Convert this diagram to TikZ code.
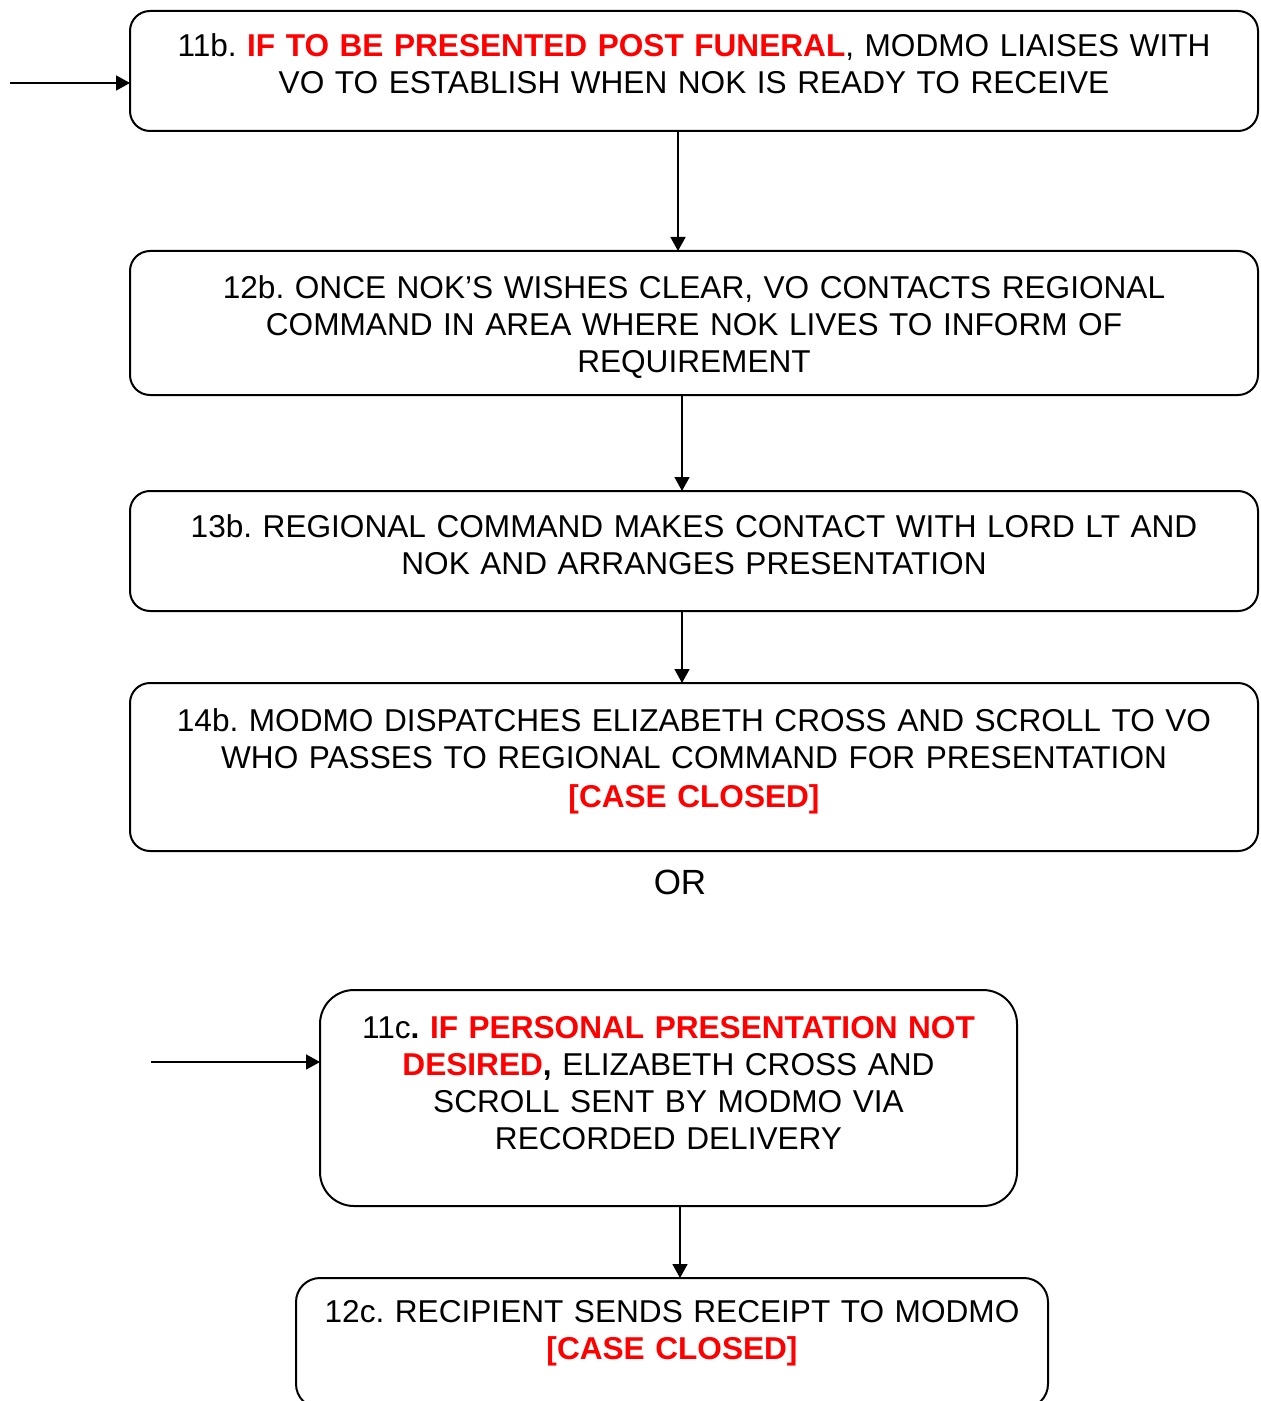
\documentclass[tikz,border=0pt]{standalone}
\usepackage{fontspec}
\setmainfont{Liberation Sans}
\usetikzlibrary{arrows.meta, positioning}

\frenchspacing
\newcommand{\urgent}[1]{\textcolor{red}{\textbf{#1}}}

\begin{document}
\begin{tikzpicture}[
  stepbox/.style={draw, line width=1pt, outer sep=0pt, rounded corners=10pt, text width=552pt, align=center, inner xsep=6pt, inner ysep=0pt, font=\fontsize{15.8pt}{18.5pt}\selectfont},
  roundbox/.style={stepbox, rounded corners=17pt, text width=336.5pt},
  lastbox/.style={stepbox, rounded corners=12pt, text width=364pt},
  orlabel/.style={inner sep=0pt, font=\fontsize{17.5pt}{20pt}\selectfont},
  flow/.style={-{Triangle[length=7pt, width=7.5pt]}, line width=0.8pt}
]
\useasboundingbox (0,0) rectangle (630pt,-700.5pt);

% Post funeral route
\node[stepbox, anchor=north west, text height=23pt, text depth=37pt] (b11) at (65pt,-5.5pt)
  {11b. \urgent{IF TO BE PRESENTED POST FUNERAL}, MODMO LIAISES WITH\\VO TO ESTABLISH WHEN NOK IS READY TO RECEIVE};
\node[stepbox, below=60pt of b11, text height=24pt, text depth=48pt] (b12)
  {12b. ONCE NOK’S WISHES CLEAR, VO CONTACTS REGIONAL\\COMMAND IN AREA WHERE NOK LIVES TO INFORM OF\\REQUIREMENT};
\node[stepbox, below=48pt of b12, text height=23pt, text depth=37pt] (b13)
  {13b. REGIONAL COMMAND MAKES CONTACT WITH LORD LT AND\\NOK AND ARRANGES PRESENTATION};
\node[stepbox, below=36pt of b13, text height=24pt, text depth=60pt] (b14)
  {14b. MODMO DISPATCHES ELIZABETH CROSS AND SCROLL TO VO\\WHO PASSES TO REGIONAL COMMAND FOR PRESENTATION\\[1pt]\urgent{[CASE CLOSED]}};

% Or
\node[orlabel, below=9.5pt of b14, xshift=-7pt] (or) {OR};

% Not desired route
\node[roundbox, below=69.5pt of b14, xshift=-12.75pt, text height=24pt, text depth=84pt] (b11c)
  {11c\textbf{.} \urgent{IF PERSONAL PRESENTATION NOT}\\\urgent{DESIRED}\textbf{,} ELIZABETH CROSS AND\\SCROLL SENT BY MODMO VIA\\RECORDED DELIVERY};
\node[lastbox, below=36pt of b11c, xshift=1.75pt, text height=22pt, text depth=43pt] (b12c)
  {12c. RECIPIENT SENDS RECEIPT TO MODMO\\\urgent{[CASE CLOSED]}};

% Arrows
\coordinate (in11b) at ([xshift=-60pt, yshift=-6pt]b11.west);
\draw[flow] (in11b) -- (in11b -| b11.west);
\draw[flow] ([xshift=-8pt]b11.south) -- ([xshift=-8pt]b12.north);
\draw[flow] ([xshift=-6pt]b12.south) -- ([xshift=-6pt]b13.north);
\draw[flow] ([xshift=-6pt]b13.south) -- ([xshift=-6pt]b14.north);

\coordinate (in11c) at ([xshift=-84.5pt, yshift=18pt]b11c.west);
\draw[flow] (in11c) -- (in11c -| b11c.west);
\draw[flow] ([xshift=5.75pt]b11c.south) -- ([xshift=5.75pt]b11c.south |- b12c.north);

\end{tikzpicture}
\end{document}
